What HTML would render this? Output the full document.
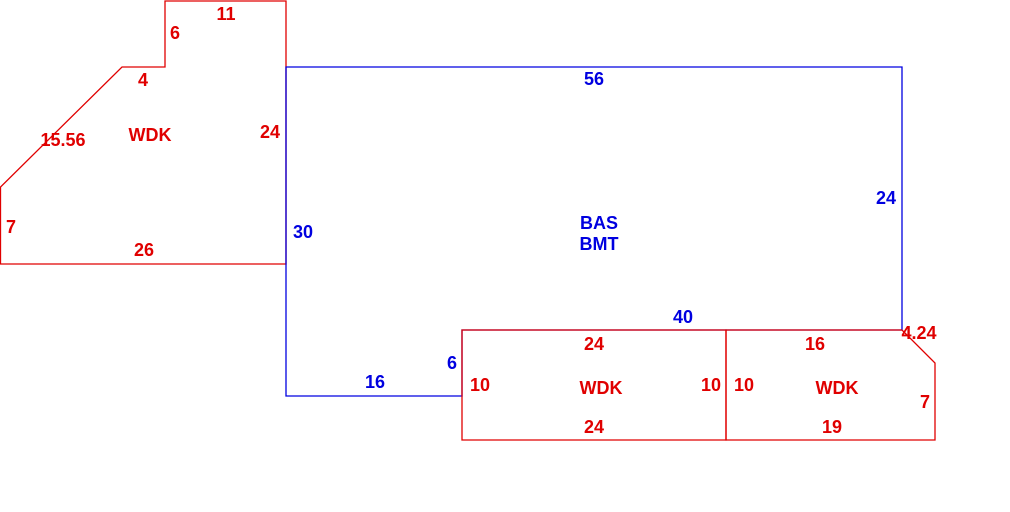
<!DOCTYPE html>
<html><head><meta charset="utf-8"><style>
html,body{margin:0;padding:0;background:#fff;}
svg{display:block;}
text{font-family:"Liberation Sans",sans-serif;font-size:18px;font-weight:bold;}
.r{fill:#e00000;} .b{fill:#0000e0;}
</style></head><body>
<svg width="1010" height="512" viewBox="0 0 1010 512" xmlns="http://www.w3.org/2000/svg">
<g fill="none" stroke-width="1.3">
<polygon stroke="#e00000" points="165,1 286,1 286,264 0.5,264 0.5,187 122,67 165,67"/>
<polygon stroke="#0000e0" points="286,67 902,67 902,330 462,330 462,396 286,396"/>
<polygon stroke="#e00000" points="462,330 726,330 726,440 462,440"/>
<polygon stroke="#e00000" points="726,330 902,330 935,363 935,440 726,440"/>
</g>
<g text-anchor="middle">
<text class="r" x="226" y="20">11</text>
<text class="r" x="175" y="39">6</text>
<text class="r" x="143" y="86">4</text>
<text class="r" x="63" y="146">15.56</text>
<text class="r" x="150" y="141">WDK</text>
<text class="r" x="270" y="138">24</text>
<text class="r" x="11" y="233">7</text>
<text class="r" x="144" y="256">26</text>
<text class="b" x="594" y="85">56</text>
<text class="b" x="886" y="204">24</text>
<text class="b" x="599" y="229">BAS</text>
<text class="b" x="599" y="250">BMT</text>
<text class="b" x="303" y="238">30</text>
<text class="b" x="683" y="323">40</text>
<text class="r" x="919" y="339">4.24</text>
<text class="b" x="452" y="369">6</text>
<text class="b" x="375" y="388">16</text>
<text class="r" x="594" y="350">24</text>
<text class="r" x="480" y="391">10</text>
<text class="r" x="601" y="394">WDK</text>
<text class="r" x="711" y="391">10</text>
<text class="r" x="744" y="391">10</text>
<text class="r" x="594" y="433">24</text>
<text class="r" x="815" y="350">16</text>
<text class="r" x="837" y="394">WDK</text>
<text class="r" x="925" y="408">7</text>
<text class="r" x="832" y="433">19</text>
</g>
</svg>
</body></html>
